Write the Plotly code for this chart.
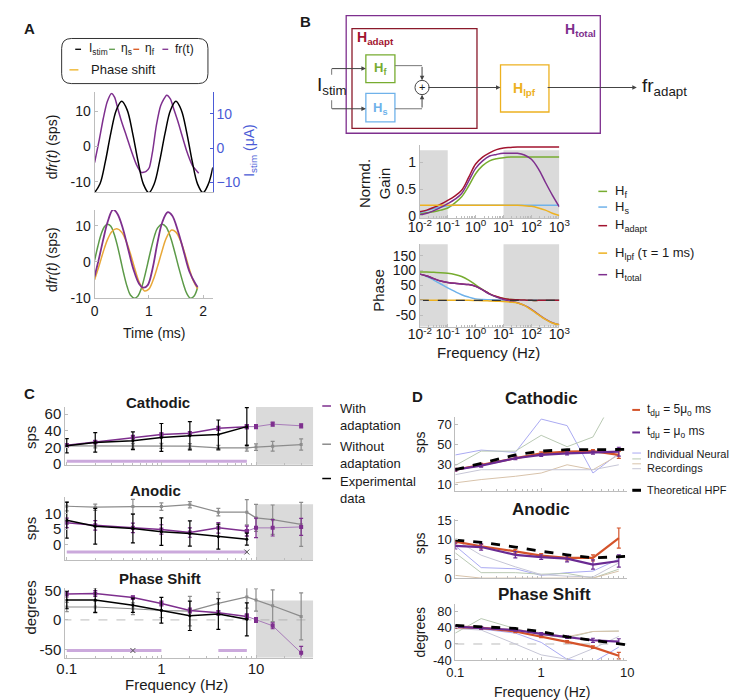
import plotly.graph_objects as go

W, H = 737, 700
FONT = "Liberation Sans, Arial, sans-serif"
AXC = "#BDBDBD"
INK = "#1a1a1a"

# ---------------- Panel A data ----------------
t_stim = [0.0, 0.1, 0.2, 0.3, 0.4, 0.5, 0.6, 0.7, 0.8, 0.9, 1.0, 1.1, 1.2, 1.3, 1.4, 1.5,
          1.6, 1.7, 1.8, 1.9, 2.0, 2.1, 2.18]
istim = [-13.0, -10.4, -3.8, 4.5, 11.1, 13.7, 11.2, 4.5, -3.7, -10.5, -13.0, -10.4, -3.8, 4.4,
         11.1, 13.7, 11.1, 4.5, -3.8, -10.5, -13.0, -10.4, -5.6]
t_fr_top = [0, .08, .16, .23, .31, .37, .43, .50, .59, .68, .77, .86, .95, 1.01, 1.07, 1.14,
            1.22, 1.33, 1.40, 1.46, 1.54, 1.61, 1.70, 1.80, 1.92]
fr_top = [-4.6, 1.4, 7.9, 12.5, 15, 13.9, 10.6, 6.9, 2.8, -1.4, -5.1, -7.4, -7.1, -6, -1.4, 6,
          11.6, 14.5, 13.4, 10.6, 6.9, 3.2, -1.4, -5.3, -7.6]
t_fr_bot = [0, .08, .16, .24, .34, .42, .52, .62, .72, .82, .90, .98, 1.07, 1.16, 1.25, 1.35,
            1.43, 1.54, 1.64, 1.75, 1.86, 1.90]
fr_bot = [-4, 0.9, 6.2, 11, 14.4, 13.3, 9.3, 3.5, -2.2, -6, -7.1, -6.4, -1.8, 5.3, 11, 13.7,
          12.8, 8.4, 3.1, -2.7, -6, -6.9]
t_eta = [0, .06, .12, .18, .24, .30, .36, .42, .48, .54, .60, .66, .74, .80, .86, .92, .98,
         1.04, 1.10, 1.16, 1.25, 1.32, 1.40, 1.48, 1.56, 1.64, 1.70, 1.77, 1.84, 1.90]
eta_s = [0.4, 4.3, 7.6, 9.7, 10.4, 9.8, 7.7, 4.5, 0.6, -3.4, -6.8, -9.1, -10, -9.4, -7.4, -4.2,
         -0.4, 3.5, 6.9, 9.3, 10.4, 9.6, 6.8, 2.6, -2, -6.2, -8.7, -10, -9.3, -7]
t_ps = [0, .08, .16, .24, .32, .41, .50, .58, .66, .74, .82, .92, 1.0, 1.08, 1.16, 1.24, 1.32,
        1.42, 1.50, 1.58, 1.66, 1.74, 1.82, 1.90]
phase_shift = [-4.9, -1.2, 2.8, 6.2, 8.4, 9.1, 8.2, 5.8, 2.3, -1.8, -5.5, -8, -7.5, -5, -1.3,
               2.8, 6.5, 8.8, 8.2, 6, 2.5, -1.6, -5.2, -7.4]

# ---------------- Panel B data ----------------
f_b = [0.01, 0.0178, 0.0316, 0.0562, 0.1, 0.178, 0.316, 0.562, 1, 1.78, 3.16, 5.62, 10, 17.8,
       31.6, 56.2, 100, 178, 316, 562, 1000]
gain_hf = [0.04, 0.06, 0.08, 0.11, 0.15, 0.24, 0.36, 0.56, 0.79, 0.94, 1.03, 1.07, 1.09, 1.1,
           1.1, 1.1, 1.1, 1.1, 1.1, 1.1, 1.1]
gain_hs = [0.06, 0.10, 0.14, 0.17, 0.19, 0.2, 0.2, 0.2, 0.2, 0.2, 0.2, 0.2, 0.2, 0.2, 0.2, 0.2,
           0.2, 0.2, 0.2, 0.2, 0.2]
gain_hadapt = [0.08, 0.11, 0.16, 0.22, 0.29, 0.37, 0.48, 0.72, 0.97, 1.1, 1.18, 1.24, 1.27,
               1.28, 1.29, 1.29, 1.29, 1.29, 1.29, 1.29, 1.29]
gain_hlpf = [0.2, 0.2, 0.2, 0.2, 0.2, 0.2, 0.2, 0.2, 0.2, 0.2, 0.2, 0.2, 0.2, 0.2, 0.2, 0.19,
             0.18, 0.15, 0.11, 0.05, 0.01]
gain_htotal = [0.02, 0.05, 0.10, 0.16, 0.23, 0.31, 0.42, 0.65, 0.89, 1.03, 1.12, 1.15, 1.17,
               1.17, 1.17, 1.14, 1.06, 0.88, 0.63, 0.39, 0.17]
ph_hf = [95, 95, 94, 93, 91, 87, 80, 68, 52, 36, 22, 12, 6, 3, 2, 1, 0, 0, 0, 0, 0]
ph_hs = [88, 80, 68, 55, 42, 30, 19, 11, 5, 3, 2, 1, 0, 0, 0, 0, 0, 0, 0, 0, 0]
ph_hadapt = [88, 82, 73, 65, 60, 57, 55, 53, 47, 35, 22, 13, 6, 3, 2, 1, 0, 0, 0, 0, 0]
ph_hlpf = [0, 0, 0, 0, 0, 0, 0, 0, -0.5, -1, -2, -3, -4, -6, -9, -17, -32, -48, -64, -76, -82]
ph_htotal = [88, 82, 73, 65, 60, 57, 55, 53, 47, 35, 21, 11, 3, -3, -8, -17, -30, -47, -63,
             -75, -82]
f_zero = [0.01, 1000]
zero_b = [0, 0]

# ---------------- Panel C data ----------------
f_exp = [0.1, 0.2, 0.5, 1, 2, 4, 8]
f_mod = [0.1, 0.2, 0.5, 1, 2, 4, 8, 10, 15, 30]
cat_adapt = [22.6, 26.5, 32.4, 35.5, 37, 43, 45, 45, 48, 46]
cat_adapt_err = [2, 2, 2, 2, 2, 2.5, 2.5, 2.5, 2.5, 2.5]
cat_noadapt = [22, 22, 22, 22, 21.5, 19.5, 19.5, 20.5, 21.5, 23.5]
cat_noadapt_err = [2, 2.5, 3, 3, 3, 3, 3.9, 3.9, 5.8, 6.8]
cat_exp = [22, 26, 28, 32, 34, 35.5, 45]
cat_exp_err = [8.6, 11.7, 10.7, 16.8, 17, 17.5, 22.8]
an_adapt = [7, 6.2, 5.4, 4.9, 3.9, 5.4, 4.4, 5.4, 5.4, 5.7]
an_adapt_err = [1.5, 1.5, 1.5, 1.5, 1.5, 1.7, 1.6, 3.1, 2.6, 2.7]
an_noadapt = [12.3, 12, 12.2, 12.2, 12.8, 10.4, 10.4, 8.6, 8, 6.5]
an_noadapt_err = [1.5, 1, 2.3, 1.2, 1, 1.2, 4, 4.3, 4.7, 7]
an_exp = [7.8, 5.9, 5.2, 4.2, 3.6, 2.6, 1.8]
an_exp_err = [5.7, 5.7, 4.6, 4.4, 4, 4, 1.9]
ps_adapt = [44, 45, 38, 28, 16, 12, 6, 0, -10, -56]
ps_adapt_err = [5, 5, 3, 4, 4, 4, 4, 4, 5, 11]
ps_noadapt = [22, 22, 19, 16, 15, 28, 39, 34, 24, 6]
ps_noadapt_err = [8, 10, 10, 12, 25, 19, 19, 19, 27, 40]
ps_exp = [34, 34, 25, 16.5, 7, 10, 1]
ps_exp_err = [15, 21, 12, 22, 25, 26, 28]
sig_cat_f = [0.1, 8]
sig_cat_y = [3.5, 3.5]
sig_an_f = [0.1, 8]
sig_an_y = [-2.3, -2.3]
sig_ps1_f = [0.1, 1]
sig_ps2_f = [4, 8]
sig_ps_y = [-52, -52]
x_marks_an = ([8], [-2.3])
x_marks_ps = ([0.5], [-52])
f_zero_c = [0.09, 40]

# ---------------- Panel D data ----------------
f_d = [0.1, 0.2, 0.5, 1, 2, 4, 8]
f_hpf = [0.1, 0.2, 0.5, 1, 2, 4, 8, 10]
d_cat_5mu = [24.8, 29.8, 37, 41.3, 43, 43.6, 39.7]
d_cat_5mu_err = [1.5, 1.5, 1.5, 1.5, 1.5, 1.5, 3.5]
d_cat_mu = [24.8, 29, 36.4, 39.7, 41.3, 42, 43]
d_cat_mu_err = [1.5, 1.5, 1.5, 1.5, 1.5, 1.5, 4.5]
d_cat_hpf = [24.8, 31.4, 39.7, 43.6, 45, 45, 45.2, 45.3]
d_cat_ind = [[39.7, 44.6, 42.3, 75.9, 69.3, 21.5, 41.3],
             [29, 43.6, 43.6, 59.5, 48, 57.8, 105],
             [11.6, 14.9, 18.2, 21.5, 29.8, 24.8, 39.7],
             [19.8, 24.8, 24.8, 24.8, 24.8, 24.8, 29.8]]
d_an_5mu = [9.5, 8.3, 7.0, 5.9, 5.3, 5.3, 10.4]
d_an_5mu_err = [0.5, 0.5, 0.5, 0.5, 0.5, 0.8, 2.6]
d_an_mu = [8.4, 8.1, 6.1, 5.5, 5.1, 3.6, 4.5]
d_an_mu_err = [0.8, 0.8, 0.8, 0.6, 0.8, 1.2, 1.6]
d_an_hpf = [9.9, 9.3, 8.1, 7.0, 6.1, 5.3, 5.6, 5.7]
d_an_ind = [[8.4, 2.8, 2.5, 0.8, 1.5, 1.9, 5.0],
            [6.6, 1.5, 1.5, 1.1, 1.3, 0.1, 2.4],
            [0.8, 0.1, 0.1, 0.1, 0.1, 0.1, 1.9],
            [10.0, 6.0, 3.0, 1.0, 0.6, 0.4, 4.0]]
d_ps_5mu = [42, 40, 31, 19, 5.4, -7.7, -29]
d_ps_5mu_err = [3, 3, 3, 3, 3, 3, 8]
d_ps_mu = [43, 40, 34.6, 25, 17, 9.2, 6]
d_ps_mu_err = [3, 3, 3, 3, 3, 5, 7]
d_ps_hpf = [46, 42, 38.5, 31, 17.7, 9.2, 0, -2.3]
d_ps_ind = [[42, 37, 27, 4, -38, -46, -7.7],
            [27, 63, 38, 23, 15, 31, 32],
            [46, 42, 36, 28, 18, 31, 32],
            [38, 34.6, 0, -27, -38, -11.5, 19]]
f_zero_d = [0.1, 10]
zero2 = [0, 0]

# ---------------- styling ----------------
PUR = "#7E2F8E"
PUR_L = "#A77BB8"
GRN_A = "#5C9A48"
GRN = "#77AC30"
BLU = "#6FB2EA"
MAR = "#A2142F"
ORG = "#EDB120"
RED = "#D95319"
GRY = "#8C8C8C"
SIG = "#CBA9DC"
SHADE = "#DADADA"
ISTIM_BLUE = "#4B5BD6"
D_RED = "#D4532A"
D_PUR = "#6A2A92"
IND_COLS = ["#AAAAF2", "#B9C9B3", "#D8C3AB", "#C6C6D6"]


def X(p):
    return p / W


def Y(p):
    return 1 - p / H


fig = go.Figure()
layout = {}
shapes = []
annotations = []


def sfx(k):
    return "" if k == 1 else str(k)


def add(x, y, k, yk=None, **kw):
    kw.setdefault("mode", "lines")
    fig.add_trace(go.Scatter(x=x, y=y, xaxis="x" + sfx(k),
                             yaxis="y" + (sfx(k) if yk is None else str(yk)),
                             showlegend=False, hoverinfo="skip", **kw))


def axes(k, xd, yd, xr, yr, xtype="linear", xt=None, yt=None, xlab=True, tsize=14,
         minor=False, xstand=0):
    s = sfx(k)
    base = dict(showline=True, linecolor=AXC, linewidth=1, ticks="inside", ticklen=3,
                tickcolor=AXC, showgrid=False, zeroline=False,
                tickfont=dict(size=tsize, color=INK, family=FONT))
    xa = dict(base, domain=[X(xd[0]), X(xd[1])], range=xr, type=xtype, anchor="y" + s,
              ticklabelstandoff=xstand)
    if xt is not None:
        xa.update(tickmode="array", tickvals=xt[0], ticktext=xt[1])
    if not xlab:
        xa["showticklabels"] = False
    if minor:
        xa["minor"] = dict(ticks="inside", ticklen=2, tickcolor=AXC, dtick="D1", showgrid=False)
    ya = dict(base, domain=[Y(yd[1]), Y(yd[0])], range=yr, anchor="x" + s)
    if yt is not None:
        ya.update(tickmode="array", tickvals=yt, ticktext=[str(v) for v in yt])
    layout["xaxis" + s] = xa
    layout["yaxis" + s] = ya


def text(x, y, t, size=13, color=INK, xa="center", ya="middle", angle=0, bold=False):
    if bold:
        t = "<b>" + t + "</b>"
    annotations.append(dict(x=X(x), y=Y(y), xref="paper", yref="paper", text=t,
                            showarrow=False, xanchor=xa, yanchor=ya, textangle=angle,
                            font=dict(size=size, color=color, family=FONT)))


def pline(x0, y0, x1, y1, color, width=1.0, dash="solid"):
    shapes.append(dict(type="line", xref="paper", yref="paper", x0=X(x0), y0=Y(y0),
                       x1=X(x1), y1=Y(y1), line=dict(color=color, width=width, dash=dash)))


def prect(x0, y0, x1, y1, color, width=1.2):
    shapes.append(dict(type="rect", xref="paper", yref="paper", x0=X(x0), y0=Y(y1),
                       x1=X(x1), y1=Y(y0), line=dict(color=color, width=width)))


def arrow(xt, yt, xh, yh, color="#444444"):
    annotations.append(dict(x=X(xh), y=Y(yh), xref="paper", yref="paper",
                            ax=xt - xh, ay=yt - yh, axref="pixel", ayref="pixel", text="",
                            showarrow=True, arrowhead=2, arrowsize=0.9, arrowwidth=1,
                            arrowcolor=color, standoff=0, font=dict(size=10)))


def shade(k, x0, x1, y0=None, y1=None):
    s = sfx(k)
    if y0 is None:
        shapes.append(dict(type="rect", xref="x" + s, yref="y" + s + " domain", x0=x0, x1=x1,
                           y0=0, y1=1, fillcolor=SHADE, line=dict(width=0), layer="below"))
    else:
        shapes.append(dict(type="rect", xref="x" + s, yref="y" + s, x0=x0, x1=x1,
                           y0=y0, y1=y1, fillcolor=SHADE, line=dict(width=0), layer="below"))


def eb(arr, color):
    return dict(type="data", array=arr, color=color, thickness=1.2, width=2, visible=True)


# ======================= Panel A =======================
axes(1, (77, 199), (80, 182), [0, 2.18], [-13.05, 15.3], xlab=False, yt=[-10, 0, 10])
layout["xaxis"]["ticks"] = ""
layout["yaxis2"] = dict(overlaying="y", side="right", anchor="x", range=[-12.9, 16.3],
                        showline=True, linecolor=ISTIM_BLUE, linewidth=1, ticks="inside",
                        ticklen=3, tickcolor=ISTIM_BLUE, showgrid=False, zeroline=False,
                        tickmode="array", tickvals=[-10, 0, 10],
                        tickfont=dict(size=14, color=ISTIM_BLUE, family=FONT))
add(t_stim, istim, 1, yk=2, line=dict(color="black", width=1.5, shape="spline"))
add(t_fr_top, fr_top, 1, line=dict(color=PUR, width=1.5, shape="spline", smoothing=0.6))

axes(3, (77, 199), (200, 290), [0, 2.18], [-10, 14.3], xt=([0, 1, 2], ["0", "1", "2"]),
     yt=[-10, 0, 10])
add(t_eta, eta_s, 3, line=dict(color=GRN_A, width=1.5, shape="spline"))
add(t_ps, phase_shift, 3, line=dict(color="#E8A838", width=1.5, shape="spline"))
add(t_fr_bot, fr_bot, 3, line=dict(color=PUR, width=1.8, shape="spline"))

text(2, 4, "A", size=15, xa="left", ya="top", bold=True)
text(33, 135, "d<i>fr(t)</i> (sps)", size=14, angle=-90)
text(33, 250, "d<i>fr(t)</i> (sps)", size=14, angle=-90)
text(238, 140, "I<sub>stim</sub> (μA)", size=14, angle=-90, color=ISTIM_BLUE)
text(138, 326, "Time (ms)", size=14)

# legend box A
x0, x1, y0, y1, r = 43, 194, 25, 71, 10
pts = [("M", x0 + r, y0), ("L", x1 - r, y0), ("Q", x1, y0, x1, y0 + r), ("L", x1, y1 - r),
       ("Q", x1, y1, x1 - r, y1), ("L", x0 + r, y1), ("Q", x0, y1, x0, y1 - r),
       ("L", x0, y0 + r), ("Q", x0, y0, x0 + r, y0)]
path = ""
for p in pts:
    if p[0] == "Q":
        path += "Q%.5f,%.5f %.5f,%.5f " % (X(p[1]), Y(p[2]), X(p[3]), Y(p[4]))
    else:
        path += "%s%.5f,%.5f " % (p[0], X(p[1]), Y(p[2]))
path += "Z"
shapes.append(dict(type="path", xref="paper", yref="paper", path=path,
                   line=dict(color="#333333", width=1)))
pline(57, 36, 63, 36, "black", 1.3)
text(69, 36, "I<sub>stim</sub>", size=12, xa="left")
pline(92, 36, 98, 36, GRN_A, 1.3)
text(102, 36, "η<sub>s</sub>", size=12, xa="left")
pline(117, 36, 123, 36, RED, 1.3)
text(127, 36, "η<sub>f</sub>", size=12, xa="left")
pline(147, 36, 153, 36, PUR, 1.3)
text(158, 36, "fr(t)", size=12, xa="left")
pline(51, 57, 65, 57, ORG, 1.3, "dash")
text(71, 57, "Phase shift", size=13, xa="left")

# ======================= Panel B diagram =======================
text(295, 8, "B", size=15, bold=True)
prect(336.7, 1.7, 599, 121.7, PUR, 1.3)
prect(342.7, 15, 471.7, 116.7, "#8B1A2B", 1.3)
prect(357, 41.7, 387, 70, GRN, 1.3)
prect(357, 81, 387, 110, BLU, 1.3)
prect(496, 52, 546, 100, ORG, 1.3)
shapes.append(dict(type="circle", xref="paper", yref="paper", x0=X(415 - 7.3),
                   x1=X(415 + 7.3), y0=Y(75 + 7.3), y1=Y(75 - 7.3),
                   line=dict(color="#444444", width=1)))
text(415, 75, "+", size=11)
LC = "#777777"
pline(321.7, 55.7, 321.7, 62, LC)
pline(321.7, 88, 321.7, 96.7, LC)
arrow(321.7, 55.7, 357, 55.7)
arrow(321.7, 96.7, 357, 96.7)
pline(387, 52.7, 415, 52.7, LC)
arrow(415, 52.7, 415, 67.7)
pline(387, 96.7, 415, 96.7, LC)
arrow(415, 96.7, 415, 82.3)
arrow(422.3, 75, 496, 75)
arrow(546, 75, 636.7, 75)
text(346, 25, "H<sub>adapt</sub>", size=14, color=MAR, xa="left", bold=True)
text(560, 16, "H<sub>total</sub>", size=14, color=PUR, xa="left", bold=True)
text(372, 56, "H<sub>f</sub>", size=13, color=GRN, bold=True)
text(372, 96, "H<sub>s</sub>", size=13, color=BLU, bold=True)
text(521, 77, "H<sub>lpf</sub>", size=14, color=ORG, bold=True)
text(305, 73, "I<sub>stim</sub>", size=19, xa="left")
text(640, 75, "fr<sub>adapt</sub>", size=19, xa="left")

# ======================= Panel B plots =======================
dec_vals = [0.01, 0.1, 1, 10, 100, 1000]
dec_txt = ["10<sup>-2</sup>", "10<sup>-1</sup>", "10<sup>0</sup>", "10<sup>1</sup>",
           "10<sup>2</sup>", "10<sup>3</sup>"]
axes(4, (412.7, 556.7), (134, 208.3), [-2, 3], [-0.04, 1.32], xtype="log",
     xt=(dec_vals, dec_txt), yt=[0, 0.5, 1], minor=True, xstand=-4)
layout["yaxis4"]["ticktext"] = ["0", "0.5", "1"]
shade(4, 0.01, 0.1, -0.04, 1.23)
shade(4, 10, 1000, -0.04, 1.23)
for g, c in [(gain_hf, GRN), (gain_hs, BLU), (gain_hadapt, MAR), (gain_hlpf, ORG),
             (gain_htotal, PUR)]:
    add(f_b, g, 4, line=dict(color=c, width=1.5, shape="spline"))

axes(5, (412.7, 556.7), (235, 319), [-2, 3], [-88, 188], xtype="log",
     xt=(dec_vals, dec_txt), yt=[-50, 0, 50, 100, 150], minor=True, xstand=-5)
shade(5, 0.01, 0.1)
shade(5, 10, 1000)
for g, c in [(ph_hf, GRN), (ph_hs, BLU), (ph_hadapt, MAR), (ph_htotal, PUR), (ph_hlpf, ORG)]:
    add(f_b, g, 5, line=dict(color=c, width=1.5, shape="spline"))
add(f_zero, zero_b, 5, line=dict(color="#333333", width=1.3, dash="dash"))

text(366, 173, "Normd.<br>Gain", size=15, angle=-90)
text(370, 282, "Phase", size=15, angle=-90)
text(484, 345, "Frequency (Hz)", size=15)
for yy, c, t in [(181, GRN, "H<sub>f</sub>"), (197, BLU, "H<sub>s</sub>"),
                 (216, MAR, "H<sub>adapt</sub>"), (244, ORG, "H<sub>lpf</sub> (τ = 1 ms)"),
                 (266, PUR, "H<sub>total</sub>")]:
    pline(597, yy, 606, yy, c, 1.5)
    text(612, yy, t, size=13, xa="left")

# ======================= Panel C =======================
CX = (46.7, 302.7)
CXR = [-1.016, 1.605]
ctick = ([0.1, 1, 10], ["0.1", "1", "10"])
axes(6, CX, (401, 460), CXR, [-0.8, 68.6], xtype="log", xt=ctick, xlab=False,
     yt=[0, 20, 40, 60], minor=True, tsize=15)
axes(7, CX, (493, 557.3), CXR, [-4.9, 15.2], xtype="log", xt=ctick, xlab=False,
     yt=[-5, 0, 5, 10], minor=True, tsize=15)
axes(8, CX, (586, 657), CXR, [-64.5, 53.8], xtype="log", xt=ctick,
     yt=[-50, 0, 50], minor=True, tsize=15, xstand=-3)
shade(6, 10, 40.3)
shade(7, 10, 40.3, -4.9, 12.9)
shade(8, 10, 40.3, -64.5, 33)


def cpanel(k, sig_list, adapt, adapt_err, noad, noad_err, expv, exp_err):
    for sf, sy in sig_list:
        add(sf, sy, k, line=dict(color=SIG, width=3))
    add(f_mod, noad, k, mode="lines+markers", line=dict(color=GRY, width=1.2),
        marker=dict(color=GRY, size=3, symbol="square"), error_y=eb(noad_err, GRY))
    add(f_mod[6:], adapt[6:], k, mode="lines+markers", line=dict(color=PUR_L, width=1),
        marker=dict(color=PUR, size=4, symbol="square"), error_y=eb(adapt_err[6:], PUR))
    add(f_mod[:7], adapt[:7], k, mode="lines+markers", line=dict(color=PUR, width=1.5),
        marker=dict(color=PUR, size=4, symbol="square"), error_y=eb(adapt_err[:7], PUR))
    add(f_exp, expv, k, mode="lines+markers", line=dict(color="black", width=1.5),
        marker=dict(color="black", size=3), error_y=eb(exp_err, "black"))


cpanel(6, [(sig_cat_f, sig_cat_y)], cat_adapt, cat_adapt_err, cat_noadapt, cat_noadapt_err,
       cat_exp, cat_exp_err)
cpanel(7, [(sig_an_f, sig_an_y)], an_adapt, an_adapt_err, an_noadapt, an_noadapt_err,
       an_exp, an_exp_err)
add(x_marks_an[0], x_marks_an[1], 7, mode="markers",
    marker=dict(symbol="x-thin", size=5, line=dict(color="#555555", width=1)))
add(f_zero_c, zero2, 8, line=dict(color="#AAAAAA", width=0.8, dash="dash"))
cpanel(8, [(sig_ps1_f, sig_ps_y), (sig_ps2_f, sig_ps_y)], ps_adapt, ps_adapt_err, ps_noadapt,
       ps_noadapt_err, ps_exp, ps_exp_err)
add(x_marks_ps[0], x_marks_ps[1], 8, mode="markers",
    marker=dict(symbol="x-thin", size=5, line=dict(color="#555555", width=1)))

text(2, 377, "C", size=15, xa="left", ya="top", bold=True)
text(142, 396, "Cathodic", size=15, bold=True)
text(140, 486, "Anodic", size=15, bold=True)
text(145, 576, "Phase Shift", size=15, bold=True)
text(11, 432, "sps", size=15, angle=-90)
text(11, 525, "sps", size=15, angle=-90)
text(11, 606, "degrees", size=15, angle=-90)
text(162, 684, "Frequency (Hz)", size=15)
for yy, c, t in [(400, PUR, "With<br>adaptation"), (439, GRY, "Without<br>adaptation"),
                 (474, "black", "Experimental<br>data")]:
    pline(312, yy, 321, yy, c, 1.5)
    annotations.append(dict(x=X(328), y=Y(yy - 7), xref="paper", yref="paper", text=t,
                            showarrow=False, xanchor="left", yanchor="top", align="left",
                            font=dict(size=13, color=INK, family=FONT)))

# ======================= Panel D =======================
DX = (449.3, 626.7)
DXR = [-1, 1]
axes(9, DX, (411.7, 486.7), DXR, [3.4, 77.5], xtype="log", xt=ctick, xlab=False,
     yt=[10, 30, 50, 70], minor=True, tsize=13)
axes(10, DX, (515, 576), DXR, [0, 15.4], xtype="log", xt=ctick, xlab=False,
     yt=[0, 5, 10, 15], minor=True, tsize=13)
axes(11, DX, (601.7, 659.3), DXR, [-40, 100], xtype="log", xt=ctick,
     yt=[-40, 0, 40, 80], minor=True, tsize=13)


def dpanel(k, ind, hpf, v5, e5, vm, em):
    for vals, c in zip(ind, IND_COLS):
        add(f_d, vals, k, line=dict(color=c, width=1))
    add(f_d, v5, k, line=dict(color=D_RED, width=2.2), error_y=eb(e5, D_RED))
    add(f_d, vm, k, line=dict(color=D_PUR, width=2.2), error_y=eb(em, D_PUR))
    add(f_hpf, hpf, k, line=dict(color="black", width=2.8, dash="dash"))


dpanel(9, d_cat_ind, d_cat_hpf, d_cat_5mu, d_cat_5mu_err, d_cat_mu, d_cat_mu_err)
dpanel(10, d_an_ind, d_an_hpf, d_an_5mu, d_an_5mu_err, d_an_mu, d_an_mu_err)
add(f_zero_d, zero2, 11, line=dict(color="#AAAAAA", width=0.8, dash="dash"))
dpanel(11, d_ps_ind, d_ps_hpf, d_ps_5mu, d_ps_5mu_err, d_ps_mu, d_ps_mu_err)

text(403, 380, "D", size=15, xa="left", ya="top", bold=True)
text(538, 392, "Cathodic", size=17, bold=True)
text(538, 506, "Anodic", size=17, bold=True)
text(541, 592, "Phase Shift", size=17, bold=True)
text(413, 437, "sps", size=14, angle=-90)
text(413, 540, "sps", size=14, angle=-90)
text(413, 631, "degrees", size=14, angle=-90)
text(539, 692, "Frequency (Hz)", size=14)
pline(632, 404, 640, 404, D_RED, 2)
text(645, 404, "t<sub>dμ</sub> = 5μ<sub>o</sub> ms", size=12, xa="left")
pline(632, 427, 640, 427, D_PUR, 2)
text(645, 427, "t<sub>dμ</sub> = μ<sub>o</sub> ms", size=12, xa="left")
for yy, c in zip([448, 454, 459, 464], IND_COLS):
    pline(632, yy, 641, yy, c, 1)
text(645, 449, "Individual Neural", size=11, xa="left")
text(645, 463, "Recordings", size=11, xa="left")
pline(632, 486, 641, 486, "black", 3)
text(645, 486, "Theoretical HPF", size=11, xa="left")

fig.update_layout(
    width=W, height=H, margin=dict(l=0, r=0, t=0, b=0), autosize=False,
    paper_bgcolor="white", plot_bgcolor="rgba(0,0,0,0)", showlegend=False,
    font=dict(family=FONT, color=INK, size=12), shapes=shapes, annotations=annotations,
    **layout)

fig.write_html("out.html")
